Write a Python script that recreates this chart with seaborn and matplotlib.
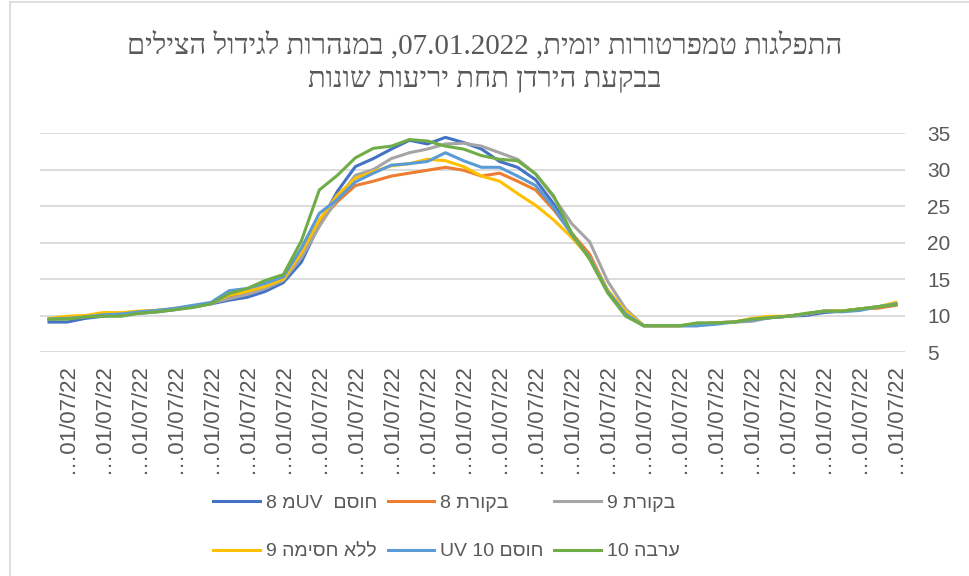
import numpy as np
import pandas as pd
import seaborn as sns
import matplotlib.pyplot as plt
from matplotlib.lines import Line2D

# half-hourly readings on 01/07/22, 48 points per tunnel
tick_labels = ["…01/07/22"] * 24

title_1 = "התפלגות טמפרטורות יומית, 07.01.2022, במנהרות לגידול הצילים"
title_2 = "בבקעת הירדן תחת יריעות שונות"

names = ["חוסם  UVמ 8", "בקורת 8", "בקורת 9", "ללא חסימה 9", "חוסם UV 10", "ערבה 10"]
colors = ["#4472C4", "#ED7D31", "#A5A5A5", "#FFC000", "#5B9BD5", "#70AD47"]

uv_8 = [9.1, 9.1, 9.6, 9.9, 10.1, 10.3, 10.5, 10.8, 11.2, 11.6,
        12.1, 12.5, 13.3, 14.5, 17.3, 22.5, 27.0, 30.4, 31.5, 32.8,
        34.0, 33.5, 34.4, 33.7, 32.8, 31.1, 30.3, 28.6, 25.3, 21.2,
        18.0, 13.3, 10.1, 8.6, 8.6, 8.6, 8.6, 9.0, 9.1, 9.4,
        9.7, 9.9, 10.0, 10.4, 10.6, 10.9, 11.2, 11.5]
control_8 = [9.5, 9.7, 9.9, 10.2, 10.3, 10.5, 10.7, 10.9, 11.2, 11.7,
             12.6, 13.1, 13.9, 15.0, 18.2, 22.8, 25.6, 27.8, 28.4, 29.1,
             29.5, 29.9, 30.3, 29.9, 29.1, 29.5, 28.4, 27.2, 24.5, 21.3,
             18.4, 13.4, 10.4, 8.6, 8.6, 8.6, 8.7, 9.0, 9.1, 9.5,
             9.7, 9.9, 10.2, 10.6, 10.6, 10.9, 11.0, 11.4]
control_9 = [9.5, 9.7, 9.9, 10.1, 10.3, 10.4, 10.6, 10.9, 11.2, 11.7,
             12.3, 12.9, 13.7, 14.8, 17.9, 22.2, 26.0, 29.2, 30.0, 31.5,
             32.3, 32.8, 33.5, 33.6, 33.2, 32.3, 31.4, 29.4, 26.2, 22.6,
             20.1, 14.7, 10.9, 8.6, 8.6, 8.6, 8.8, 9.0, 9.1, 9.2,
             9.7, 9.9, 10.2, 10.6, 10.6, 10.9, 11.2, 11.5]
no_block_9 = [9.6, 9.9, 10.0, 10.4, 10.4, 10.6, 10.7, 10.9, 11.3, 11.7,
              12.8, 13.3, 14.0, 15.0, 18.6, 23.1, 26.5, 28.8, 29.7, 30.5,
              30.8, 31.4, 31.2, 30.4, 29.1, 28.4, 26.7, 25.1, 23.1, 20.7,
              17.9, 13.5, 10.6, 8.6, 8.6, 8.6, 8.8, 9.0, 9.1, 9.6,
              9.9, 9.9, 10.2, 10.6, 10.6, 10.9, 11.2, 11.8]
uv_10 = [9.5, 9.6, 9.8, 10.1, 10.2, 10.5, 10.7, 11.0, 11.4, 11.8,
         13.4, 13.7, 14.4, 15.3, 19.2, 24.0, 25.9, 28.3, 29.5, 30.6,
         30.8, 31.1, 32.3, 31.2, 30.3, 30.3, 29.1, 27.8, 24.8, 21.1,
         17.9, 13.3, 10.2, 8.6, 8.6, 8.6, 8.6, 8.8, 9.1, 9.4,
         9.7, 9.9, 10.2, 10.6, 10.5, 10.7, 11.2, 11.6]
arava_10 = [9.5, 9.5, 9.8, 9.9, 9.9, 10.3, 10.5, 10.8, 11.1, 11.6,
            13.0, 13.7, 14.8, 15.6, 20.2, 27.2, 29.2, 31.6, 32.9, 33.2,
            34.1, 33.9, 33.2, 32.8, 31.9, 31.4, 31.2, 29.4, 26.4, 21.3,
            17.7, 13.1, 9.9, 8.6, 8.6, 8.6, 9.0, 9.0, 9.1, 9.5,
            9.7, 9.9, 10.3, 10.6, 10.6, 10.9, 11.2, 11.5]


def visual(s):
    # matplotlib has no bidi support: reorder a logical RTL string for display
    kinds = []
    for c in s:
        if "\u0590" <= c <= "\u05ff":
            kinds.append("R")
        elif c.isascii() and c.isalnum():
            kinds.append("L")
        else:
            kinds.append("N")
    res = list(kinds)
    for i, k in enumerate(kinds):
        if k == "N":
            prev = next((kinds[j] for j in range(i - 1, -1, -1) if kinds[j] != "N"), "R")
            nxt = next((kinds[j] for j in range(i + 1, len(s)) if kinds[j] != "N"), "R")
            res[i] = "L" if prev == nxt == "L" else "R"
    runs = []
    for c, k in zip(s, res):
        if runs and runs[-1][0] == k:
            runs[-1][1] += c
        else:
            runs.append([k, c])
    return "".join(t[::-1] if k == "R" else t for k, t in reversed(runs))


series = [uv_8, control_8, control_9, no_block_9, uv_10, arava_10]
df = pd.concat([pd.DataFrame({"step": np.arange(len(v)), "temp": v, "series": n})
                for n, v in zip(names, series)], ignore_index=True)

sans = ["Liberation Sans", "DejaVu Sans"]
serif = ["Liberation Serif", "DejaVu Serif"]
grey = "#595959"

fig = plt.figure(figsize=(9.69, 5.76), dpi=100)
ax = fig.add_axes([40 / 969, 1 - 352 / 576, 865 / 969, 219 / 576])

sns.lineplot(data=df, x="step", y="temp", hue="series", hue_order=names,
             palette=colors, linewidth=2.2, ax=ax, legend=False, sort=False)

ax.set_xlim(-0.5, 47.5)
ax.set_ylim(5, 35)
ax.set_yticks(range(5, 36, 5))
ax.yaxis.tick_right()
ax.grid(axis="y", color="#D9D9D9", linewidth=1.3)
ax.grid(axis="x", visible=False)
ax.set_axisbelow(True)
for sp in ax.spines.values():
    sp.set_visible(False)
ax.set_xlabel("")
ax.set_ylabel("")
ax.set_xticks(np.arange(1, 48, 2))
ax.set_xticklabels(tick_labels, rotation=90, family=sans, fontsize=16, color=grey)
ax.tick_params(axis="x", length=0, pad=9)
ax.tick_params(axis="y", length=0, pad=16)
for t in ax.get_yticklabels():
    t.set_family(sans)
    t.set_fontsize(15)
    t.set_color(grey)

fig.text(0.5, 1 - 45 / 576, visual(title_1), ha="center", va="center",
         fontsize=21, color=grey, family=serif)
fig.text(0.5, 1 - 80 / 576, visual(title_2), ha="center", va="center",
         fontsize=21, color=grey, family=serif)

# legend: row 1 = series 1-3, row 2 = series 4-6 (matplotlib fills by column)
order = [0, 3, 1, 4, 2, 5]
handles = [Line2D([], [], color=colors[i], linewidth=2.2) for i in order]
labels = [visual(names[i]) for i in order]
fig.legend(handles, labels, loc="upper left", bbox_to_anchor=(213 / 969, 1 - 494 / 576),
           ncol=3, frameon=False, borderpad=0, borderaxespad=0, handlelength=2.4,
           handletextpad=0.3, columnspacing=0.55, labelspacing=1.6,
           prop={"family": sans, "size": 14}, labelcolor=grey)

# chart-area border
fig.add_artist(Line2D([10 / 969, 10 / 969], [0, 1 - 2 / 576], color="#D9D9D9", linewidth=1.2))
fig.add_artist(Line2D([10 / 969, 1], [1 - 2 / 576, 1 - 2 / 576], color="#D9D9D9", linewidth=1.2))

fig.savefig("out.png", dpi=100, facecolor="white")
